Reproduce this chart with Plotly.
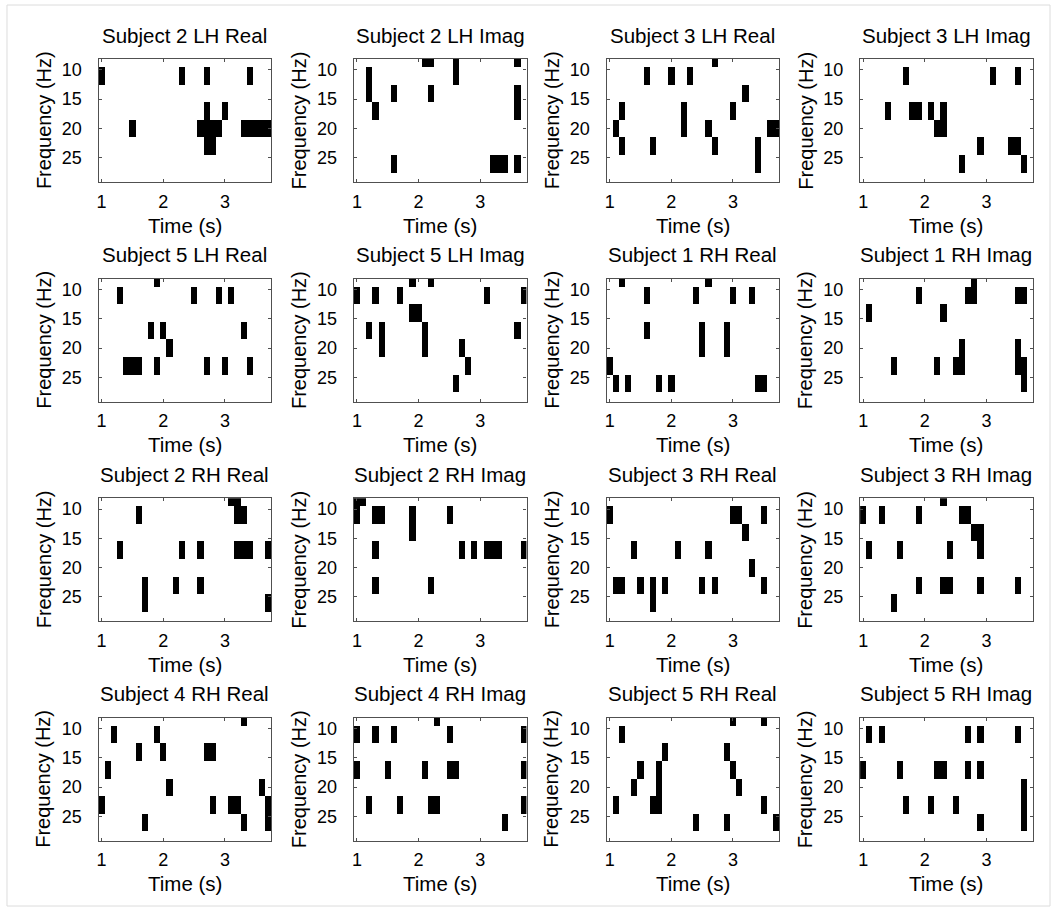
import plotly.graph_objects as go

# ---------------- data ----------------
TIMES = [1.0, 1.1, 1.2, 1.3, 1.4, 1.5, 1.6, 1.7, 1.8, 1.9,
         2.0, 2.1, 2.2, 2.3, 2.4, 2.5, 2.6, 2.7, 2.8, 2.9,
         3.0, 3.1, 3.2, 3.3, 3.4, 3.5, 3.6, 3.7]
FREQS = [8, 11, 14, 17, 20, 23, 26, 29]
X_TICKS = [1, 2, 3]
Y_TICKS = [10, 15, 20, 25]

# active (significant) time bins per frequency bin, for each panel
S2_LH_REAL = {11: [1.0, 2.3, 2.7, 3.4], 17: [2.7, 3.0],
              20: [1.5, 2.6, 2.7, 2.8, 2.9, 3.3, 3.4, 3.5, 3.6, 3.7], 23: [2.7, 2.8]}
S2_LH_IMAG = {8: [2.1, 2.2, 2.6, 3.6], 11: [1.2, 2.6], 14: [1.2, 1.6, 2.2, 3.6],
              17: [1.3, 3.6], 26: [1.6, 3.2, 3.3, 3.4, 3.6]}
S3_LH_REAL = {8: [2.7], 11: [1.6, 2.0, 2.3], 14: [3.2], 17: [1.2, 2.2, 3.0],
              20: [1.1, 2.2, 2.6, 3.6, 3.7], 23: [1.2, 1.7, 2.7, 3.4], 26: [3.4]}
S3_LH_IMAG = {11: [1.7, 3.1, 3.5], 17: [1.4, 1.8, 1.9, 2.1, 2.3], 20: [2.2, 2.3],
              23: [2.9, 3.4, 3.5], 26: [2.6, 3.6]}
S5_LH_REAL = {8: [1.9], 11: [1.3, 2.5, 2.9, 3.1], 17: [1.8, 2.0, 3.3], 20: [2.1],
              23: [1.4, 1.5, 1.6, 1.9, 2.7, 3.0, 3.4]}
S5_LH_IMAG = {8: [1.9, 2.2], 11: [1.0, 1.3, 1.7, 3.1, 3.7], 14: [1.9, 2.0],
              17: [1.2, 1.4, 2.1, 3.6], 20: [1.4, 2.1, 2.7], 23: [2.8], 26: [2.6]}
S1_RH_REAL = {8: [1.2, 2.6], 11: [1.6, 2.4, 3.0, 3.3], 17: [1.6, 2.5, 2.9], 20: [2.5, 2.9],
              23: [1.0], 26: [1.1, 1.3, 1.8, 2.0, 3.4, 3.5]}
S1_RH_IMAG = {8: [2.8], 11: [1.9, 2.7, 2.8, 3.5, 3.6], 14: [1.1, 2.3], 20: [2.6, 3.5],
              23: [1.5, 2.2, 2.5, 2.6, 3.5, 3.6], 26: [3.6]}
S2_RH_REAL = {8: [3.1, 3.2], 11: [1.6, 3.2, 3.3], 17: [1.3, 2.3, 2.6, 3.2, 3.3, 3.4, 3.7],
              23: [1.7, 2.2, 2.6], 26: [1.7, 3.7]}
S2_RH_IMAG = {8: [1.0, 1.1], 11: [1.0, 1.3, 1.4, 1.9, 2.5], 14: [1.9],
              17: [1.3, 2.7, 2.9, 3.1, 3.2, 3.3, 3.7], 23: [1.3, 2.2]}
S3_RH_REAL = {11: [1.0, 3.0, 3.1, 3.5], 14: [3.2], 17: [1.4, 2.1, 2.6], 20: [3.3],
              23: [1.1, 1.2, 1.5, 1.7, 1.9, 2.5, 2.7, 3.5], 26: [1.7]}
S3_RH_IMAG = {8: [2.3], 11: [1.0, 1.3, 1.9, 2.6, 2.7], 14: [2.8, 2.9], 17: [1.1, 1.6, 2.4, 2.9],
              23: [1.9, 2.3, 2.4, 2.9, 3.5], 26: [1.5]}
S4_RH_REAL = {8: [3.3], 11: [1.2, 1.9], 14: [1.6, 2.0, 2.7, 2.8], 17: [1.1], 20: [2.1, 3.6],
              23: [1.0, 2.8, 3.1, 3.2, 3.7], 26: [1.7, 3.3, 3.7]}
S4_RH_IMAG = {8: [2.3], 11: [1.0, 1.3, 1.6, 2.5, 3.7], 17: [1.0, 1.5, 2.1, 2.5, 2.6, 3.7],
              23: [1.2, 1.7, 2.2, 2.3, 3.7], 26: [3.4]}
S5_RH_REAL = {8: [3.0, 3.5], 11: [1.2], 14: [1.9, 2.9], 17: [1.5, 1.8, 3.0], 20: [1.4, 1.8, 3.1],
              23: [1.1, 1.7, 1.8, 3.5], 26: [2.4, 2.9, 3.7]}
S5_RH_IMAG = {11: [1.1, 1.3, 2.7, 2.9, 3.5], 17: [1.0, 1.6, 2.2, 2.3, 2.7, 2.9], 20: [3.6],
              23: [1.7, 2.1, 2.5, 3.6], 26: [2.9, 3.6]}

TITLES = ["Subject 2 LH Real", "Subject 2 LH Imag", "Subject 3 LH Real", "Subject 3 LH Imag",
          "Subject 5 LH Real", "Subject 5 LH Imag", "Subject 1 RH Real", "Subject 1 RH Imag",
          "Subject 2 RH Real", "Subject 2 RH Imag", "Subject 3 RH Real", "Subject 3 RH Imag",
          "Subject 4 RH Real", "Subject 4 RH Imag", "Subject 5 RH Real", "Subject 5 RH Imag"]
PANELS = [S2_LH_REAL, S2_LH_IMAG, S3_LH_REAL, S3_LH_IMAG,
          S5_LH_REAL, S5_LH_IMAG, S1_RH_REAL, S1_RH_IMAG,
          S2_RH_REAL, S2_RH_IMAG, S3_RH_REAL, S3_RH_IMAG,
          S4_RH_REAL, S4_RH_IMAG, S5_RH_REAL, S5_RH_IMAG]

# ---------------- layout (pixels) ----------------
W, H = 1055, 909
COL_LEFT = [96.7, 352.5, 605.7, 859.7]
PLOT_W = 173
ROW_TOP = [59.0, 278.6, 498.2, 717.7]
PLOT_H = 123
FONT = "Liberation Sans, Arial, sans-serif"
FRAME = "#505050"


def px(x):
    return x / W


def py(y):
    return 1 - y / H


fig = go.Figure()
annotations = []
layout_axes = {}

for k, (title, panel) in enumerate(zip(TITLES, PANELS)):
    r, c = divmod(k, 4)
    z = [[1 if any(abs(t - a) < 1e-6 for a in panel.get(f, [])) else 0 for t in TIMES]
         for f in FREQS]
    xa = "x" if k == 0 else f"x{k+1}"
    ya = "y" if k == 0 else f"y{k+1}"
    fig.add_trace(go.Heatmap(
        x=TIMES, y=FREQS, z=z, xaxis=xa, yaxis=ya,
        colorscale=[[0, "white"], [1, "black"]], zmin=0, zmax=1,
        showscale=False, hoverinfo="skip"))

    x0 = COL_LEFT[c]
    x1 = x0 + PLOT_W
    y0 = ROW_TOP[r]
    y1 = y0 + PLOT_H
    xname = "xaxis" if k == 0 else f"xaxis{k+1}"
    yname = "yaxis" if k == 0 else f"yaxis{k+1}"
    common = dict(showline=True, mirror="ticks", linecolor=FRAME, linewidth=1.2,
                  ticks="inside", ticklen=3, tickcolor=FRAME, tickwidth=1,
                  showgrid=False, zeroline=False,
                  tickfont=dict(family=FONT, size=18, color="black"))
    layout_axes[xname] = dict(domain=[px(x0), px(x1)], anchor=ya, range=[0.95, 3.75],
                              tickvals=X_TICKS, ticklabelstandoff=3, **common)
    layout_axes[yname] = dict(domain=[py(y1), py(y0)], anchor=xa, range=[29.15, 8.15],
                              tickvals=Y_TICKS, ticklabelstandoff=12, **common)

    cx = (x0 + x1) / 2
    annotations.append(dict(text=title, x=px(cx), y=py(y0 - 24), xref="paper", yref="paper",
                            showarrow=False, xanchor="center", yanchor="middle",
                            font=dict(family=FONT, size=20.5, color="black")))
    annotations.append(dict(text="Time (s)", x=px(cx), y=py(y1 + 43), xref="paper", yref="paper",
                            showarrow=False, xanchor="center", yanchor="middle",
                            font=dict(family=FONT, size=20.5, color="black")))
    annotations.append(dict(text="Frequency (Hz)", x=px(x0 - 55), y=py((y0 + y1) / 2),
                            xref="paper", yref="paper", textangle=-90,
                            showarrow=False, xanchor="center", yanchor="middle",
                            font=dict(family=FONT, size=20, color="black")))

fig.update_layout(
    width=W, height=H, margin=dict(l=0, r=0, t=0, b=0),
    paper_bgcolor="white", plot_bgcolor="white",
    annotations=annotations,
    shapes=[dict(type="rect", xref="paper", yref="paper",
                 x0=px(5), x1=px(1050), y0=py(906), y1=py(5),
                 line=dict(color="#dcdcdc", width=1), fillcolor="rgba(0,0,0,0)", layer="below")],
    **layout_axes)

fig.write_html("out.html")
